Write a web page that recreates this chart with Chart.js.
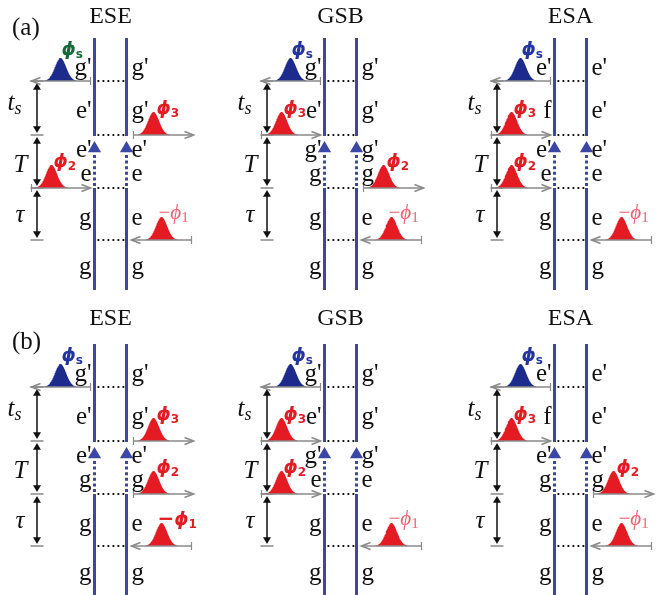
<!DOCTYPE html>
<html>
<head>
<meta charset="utf-8">
<script src="https://cdn.jsdelivr.net/npm/chart.js@4.4.1/dist/chart.umd.min.js"></script>
<style>
  html, body { margin: 0; padding: 0; background: #fff; }
  #wrap { width: 670px; height: 595px; position: relative; }
</style>
</head>
<body>
<div id="wrap"><canvas id="c"></canvas></div>
<script>
// Pathway names over each column and the row tags
const pathways = ['ESE', 'GSB', 'ESA'];
const rowTags = ['(a)', '(b)'];

// Ket-side (left) and bra-side (right) states, top of each diagram to bottom
const ketStates = [
  ["g'", "e'", "e'", 'e', 'g', 'g'],
  ["g'", "e'", "g'", 'g', 'g', 'g'],
  ["e'", 'f', "e'", 'e', 'g', 'g'],
  ["g'", "e'", "e'", 'g', 'g', 'g'],
  ["g'", "e'", "g'", 'e', 'g', 'g'],
  ["e'", 'f', "e'", 'g', 'g', 'g']
];
const braStates = [
  ["g'", "g'", "e'", 'e', 'e', 'g'],
  ["g'", "g'", "g'", 'g', 'e', 'g'],
  ["e'", "e'", "e'", 'e', 'e', 'g'],
  ["g'", "g'", "e'", 'g', 'e', 'g'],
  ["g'", "g'", "g'", 'e', 'e', 'g'],
  ["e'", "e'", "e'", 'g', 'e', 'g']
];

// Side on which each field interacts: K = ket (left), B = bra (right)
const phi3Side = ['B', 'K', 'K', 'B', 'K', 'K'];
const phi2Side = ['K', 'B', 'K', 'B', 'K', 'B'];
// The signal field always leaves from the ket side, the first pulse always hits the bra side
// Diagrams whose signal label is marked out, and whose −ϕ1 label is emphasised
const signalMarked = [true, false, false, false, false, false];
const phi1Strong = [false, false, false, true, false, false];

// Waiting-time names along the left of every diagram
const intervalNames = [['t', 's'], ['T', ''], ['τ', '']];

// ---- layout ----
const X0 = 94.5, COL = 230, GAP = 32, ROW = 306;
const TOP = 38, BOT = 290;
const CUTS = [81, 135, 188, 240];
const STATE_BASE = [75, 118, 157, 181, 225, 274];
const TITLE_BASE = [23, 325];
const TAG_BASE = [35, 349];
const INTERVAL_BASE = [110, 172, 222];

const BLUE_LINE = '#3b47a5';
const BLUE_FILL = '#1d2c8c';
const RED = '#e51b24';
const LIGHT_RED = '#f0606e';
const GRAY = '#8a8a8a';
const GREEN = '#17683a';
const SIG_BLUE = '#2435a0';

const datasets = [];
function seg(pts, color, width, dash, order) {
  datasets.push({
    data: pts, showLine: true, pointRadius: 0, borderColor: color,
    borderWidth: width, borderDash: dash || [], fill: false, tension: 0,
    borderCapStyle: 'butt', order: order
  });
}
function marks(pts, color, radius, rotation, order) {
  datasets.push({
    data: pts, showLine: false, pointStyle: 'triangle', pointRadius: radius,
    pointRotation: rotation, backgroundColor: color, borderColor: color,
    borderWidth: 0, order: order
  });
}
// bell-shaped pulse envelope sitting on the line y = base
function pulse(cx, base, color) {
  const pts = [];
  for (let k = -16; k <= 16; k += 0.5) {
    pts.push({ x: cx + k, y: base - 23 * Math.exp(-(k * k) / (2 * 5.6 * 5.6)) });
  }
  datasets.push({
    data: pts, showLine: true, pointRadius: 0, borderWidth: 0,
    borderColor: color, backgroundColor: color, fill: { value: base },
    tension: 0, order: 2
  });
}
// gray propagation arrow: from tail (x1) to head (x2)
function fieldArrow(x1, x2, y) {
  const d = Math.sign(x2 - x1);
  seg([{ x: x1, y: y }, { x: x2, y: y }], GRAY, 1.6, [], 1);
  seg([{ x: x2 - 9 * d, y: y - 3.5 }, { x: x2, y: y }, { x: x2 - 9 * d, y: y + 3.5 }], GRAY, 1.6, [], 1);
  seg([{ x: x1, y: y - 4 }, { x: x1, y: y + 4 }], GRAY, 1.2, [], 1);
}

const texts = [];
function label(parts, x, y, align, color) {
  texts.push({ parts: parts, x: x, y: y, align: align || 'left', color: color || '#111' });
}

const SERIF = '"Liberation Serif", "DejaVu Serif", serif';
const SANS = '"DejaVu Sans", "Liberation Sans", sans-serif';
const F_STATE = '25px ' + SERIF;
const F_PHI = 'bold italic 18px ' + SANS;
const F_SUB = 'bold 12px ' + SANS;

for (let i = 0; i < 6; i++) {
  const c = i % 3, r = Math.floor(i / 3);
  const L = X0 + COL * c, R = L + GAP, oy = ROW * r;
  const Y = v => v + oy;
  const cut = CUTS.map(Y);
  const bottom = Math.min(Y(BOT), 595);

  // the two time lines, broken where the population period sits
  for (const X of [L, R]) {
    seg([{ x: X, y: Y(TOP) }, { x: X, y: cut[1] + 1 }], BLUE_LINE, 3, [], 3);
    seg([{ x: X, y: cut[2] }, { x: X, y: bottom }], BLUE_LINE, 3, [], 3);
    // dotted population stem with its arrow head
    seg([{ x: X, y: cut[2] - 2 }, { x: X, y: cut[1] + 19 }], BLUE_LINE, 3, [3, 2.6], 3);
    marks([{ x: X, y: cut[1] + 13.5 }], BLUE_LINE, 7.6, 0, 3);
  }
  // dotted cuts between the lines
  for (const yc of cut) seg([{ x: L + 3, y: yc }, { x: R - 2, y: yc }], '#111', 1.8, [1.8, 3.2], 3);

  // waiting-time arrows on the left
  const ax = L - 57.5;
  for (let k = 0; k < 3; k++) {
    const y1 = cut[k] + 2, y2 = cut[k + 1] - 2;
    seg([{ x: ax, y: y1 + 4 }, { x: ax, y: y2 - 4 }], '#111', 1.5, [], 3);
    marks([{ x: ax, y: y1 + 4.5 }], '#111', 4.6, 0, 3);
    marks([{ x: ax, y: y2 - 4.5 }], '#111', 4.6, 180, 3);
  }
  for (const yc of cut) seg([{ x: L - 64, y: yc }, { x: L - 51, y: yc }], GRAY, 1.5, [], 3);

  // interval names
  label([{ t: intervalNames[0][0], f: 'italic 25px ' + SERIF }, { t: intervalNames[0][1], f: 'italic 18px ' + SERIF, dy: 4 }], L - 87, Y(INTERVAL_BASE[0]));
  label([{ t: intervalNames[1][0], f: 'italic 25px ' + SERIF }], L - 81, Y(INTERVAL_BASE[1]));
  label([{ t: intervalNames[2][0], f: 'italic 25px ' + SERIF }], L - 79, Y(INTERVAL_BASE[2]));

  // state labels
  for (let k = 0; k < 6; k++) {
    label([{ t: ketStates[i][k], f: F_STATE }], L - 3, Y(STATE_BASE[k]), 'right');
    label([{ t: braStates[i][k], f: F_STATE }], R + 5, Y(STATE_BASE[k]));
  }

  // signal field (ket side, top cut)
  pulse(L - 34, cut[0], BLUE_FILL);
  fieldArrow(L - 4, L - 63, cut[0]);
  label([{ t: 'ϕ', f: F_PHI }, { t: 's', f: F_SUB, dy: 3 }],
    L - 33, cut[0] - 26, 'left', signalMarked[i] ? GREEN : SIG_BLUE);

  // third and second fields
  const fields = [[phi3Side[i], cut[1], '3'], [phi2Side[i], cut[2], '2']];
  for (const [side, yc, n] of fields) {
    if (side === 'K') {
      pulse(L - 43, yc, RED);
      fieldArrow(L - 63, L - 4, yc);
      label([{ t: 'ϕ', f: F_PHI }, { t: n, f: F_SUB, dy: 3 }], L - 41, yc - 21, 'left', RED);
    } else {
      pulse(R + 27, yc, RED);
      fieldArrow(R + 7, R + 67, yc);
      label([{ t: 'ϕ', f: F_PHI }, { t: n, f: F_SUB, dy: 3 }], R + 30, yc - 21, 'left', RED);
    }
  }

  // first field, bra side, travelling leftward
  pulse(R + 35, cut[3], RED);
  fieldArrow(R + 65, R + 5, cut[3]);
  if (phi1Strong[i]) {
    label([{ t: '−', f: 'bold 20px ' + SANS }, { t: 'ϕ', f: F_PHI }, { t: '1', f: F_SUB, dy: 3 }], R + 31, cut[3] - 21, 'left', RED);
  } else {
    label([{ t: '−', f: '21px ' + SERIF }, { t: 'ϕ', f: 'italic 21px ' + SERIF }, { t: '1', f: '15px ' + SERIF, dy: 3 }], R + 32, cut[3] - 21, 'left', LIGHT_RED);
  }

  // column title
  label([{ t: pathways[c], f: '24px ' + SERIF }], L + GAP / 2, TITLE_BASE[r], 'center');
  if (c === 0) label([{ t: rowTags[r], f: '25px ' + SERIF }], 12, TAG_BASE[r]);
}

const textPlugin = {
  id: 'diagramText',
  afterDatasetsDraw(chart) {
    const ctx = chart.ctx, xs = chart.scales.x, ys = chart.scales.y;
    ctx.save();
    ctx.textBaseline = 'alphabetic';
    ctx.textAlign = 'left';
    for (const item of texts) {
      let w = 0;
      for (const p of item.parts) { ctx.font = p.f; w += ctx.measureText(p.t).width; }
      let x = xs.getPixelForValue(item.x);
      const y = ys.getPixelForValue(item.y);
      if (item.align === 'right') x -= w;
      else if (item.align === 'center') x -= w / 2;
      ctx.fillStyle = item.color;
      for (const p of item.parts) {
        ctx.font = p.f;
        ctx.fillText(p.t, x, y + (p.dy || 0));
        x += ctx.measureText(p.t).width;
      }
    }
    ctx.restore();
  }
};

new Chart(document.getElementById('c'), {
  type: 'scatter',
  data: { datasets: datasets },
  options: {
    responsive: true,
    maintainAspectRatio: false,
    animation: false,
    events: [],
    layout: { padding: 0, autoPadding: false },
    scales: {
      x: { type: 'linear', min: 0, max: 670, display: false },
      y: { type: 'linear', min: 0, max: 595, reverse: true, display: false }
    },
    plugins: { legend: { display: false }, tooltip: { enabled: false } }
  },
  plugins: [textPlugin]
});
</script>
</body>
</html>
